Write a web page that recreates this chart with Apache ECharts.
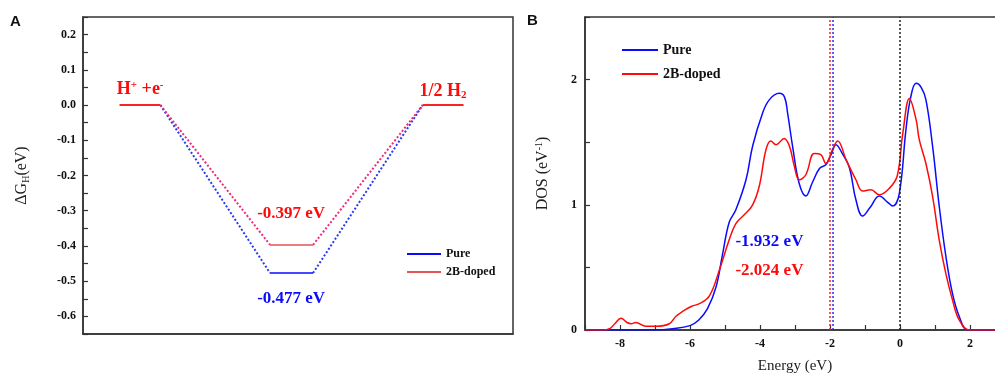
<!DOCTYPE html>
<html>
<head>
<meta charset="utf-8">
<script src="https://cdn.jsdelivr.net/npm/echarts@6/dist/echarts.min.js"></script>
<style>
  html, body { margin: 0; background: #fff; }
  #chart { width: 995px; height: 377px; }
</style>
</head>
<body>
<div id="chart"></div>
<script>
// ---- panel A: free energy diagram ----
// x positions of the three levels (reaction coordinate, arbitrary units)
const levelStart = [0.85, 1.8];
const levelMid = [4.35, 5.35];
const levelEnd = [7.9, 8.85];
const dGPure = -0.477;
const dGDoped = -0.397;

// ---- panel B: density of states ----
const pureE = [-9, -7, -6.5, -6.0, -5.75, -5.5, -5.25, -5.08, -4.88, -4.69, -4.4, -4.21, -3.93, -3.73, -3.45,
  -3.3, -3.21, -3.06, -2.88, -2.69, -2.5, -2.3, -2.12, -1.97, -1.83, -1.65, -1.45, -1.26, -1.07, -0.85,
  -0.59, -0.35, -0.21, -0.02, 0.17, 0.3, 0.46, 0.6, 0.74, 0.93, 1.12, 1.31, 1.5, 1.69, 1.93, 2.2, 3];
const pureDOS = [0, 0, 0.01, 0.035, 0.08, 0.17, 0.35, 0.59, 0.86, 0.96, 1.2, 1.47, 1.73, 1.84, 1.89,
  1.86, 1.73, 1.45, 1.17, 1.07, 1.18, 1.29, 1.32, 1.4, 1.48, 1.41, 1.3, 1.04, 0.91, 0.98,
  1.07, 1.02, 0.99, 1.09, 1.6, 1.85, 1.97, 1.94, 1.84, 1.47, 0.99, 0.59, 0.29, 0.11, 0.0, 0, 0];
const dopedE = [-9, -8.5, -8.3, -8.15, -7.97, -7.8, -7.68, -7.55, -7.26, -6.97, -6.59, -6.4, -6.2, -5.95,
  -5.73, -5.45, -5.16, -4.88, -4.69, -4.45, -4.21, -4.02, -3.83, -3.69, -3.54, -3.31, -3.16, -3.02,
  -2.88, -2.69, -2.45, -2.26, -2.12, -1.93, -1.78, -1.54, -1.26, -1.07, -0.83, -0.59, -0.31, -0.08,
  0.08, 0.27, 0.46, 0.55, 0.74, 0.93, 1.12, 1.31, 1.5, 1.69, 1.98, 2.2, 3];
const dopedDOS = [0, 0, 0.01, 0.05, 0.094, 0.06, 0.05, 0.06, 0.03, 0.03, 0.05, 0.11, 0.15, 0.19,
  0.21, 0.27, 0.48, 0.72, 0.85, 0.92, 1.0, 1.15, 1.44, 1.51, 1.48, 1.53, 1.47, 1.31,
  1.2, 1.24, 1.41, 1.4, 1.33, 1.44, 1.51, 1.36, 1.2, 1.11, 1.12, 1.08, 1.13, 1.23,
  1.57, 1.85, 1.68, 1.52, 1.33, 1.07, 0.72, 0.45, 0.24, 0.08, 0.0, 0, 0];
const fermiPure = -1.932;
const fermiDoped = -2.024;

const serif = '"Liberation Serif", "Times New Roman", serif';
const BLUE = '#0a0aff';
const RED = '#ff0a0a';

const chart = echarts.init(document.getElementById('chart'), null, { renderer: 'canvas' });

function seg(name, pts, color, type, width) {
  return {
    type: 'line', name: name, xAxisIndex: 0, yAxisIndex: 0,
    data: pts, symbol: 'none', silent: true,
    lineStyle: { color: color, type: type, width: width },
    itemStyle: { color: color }
  };
}

function note(grid, pos, text, color, size, rich) {
  return {
    type: 'scatter', xAxisIndex: grid, yAxisIndex: grid, silent: true,
    symbolSize: 0, data: [pos], itemStyle: { opacity: 1 },
    label: {
      show: true, position: 'inside', formatter: text,
      color: color, fontFamily: serif, fontWeight: 'bold', fontSize: size,
      rich: rich || {}
    }
  };
}

const zip = (xs, ys) => xs.map((x, i) => [x, ys[i]]);

const boldLabel = { fontFamily: serif, fontWeight: 'bold', fontSize: 12, color: '#111' };
const axLine = { show: true, onZero: false, lineStyle: { color: '#333', width: 1.5 } };

const option = {
  animation: false,
  backgroundColor: '#fff',
  graphic: [
    { type: 'text', left: 10, top: 14, style: { text: 'A', font: 'bold 15px "Liberation Sans", Arial, sans-serif', fill: '#111' } },
    { type: 'text', left: 527, top: 13, style: { text: 'B', font: 'bold 15px "Liberation Sans", Arial, sans-serif', fill: '#111' } }
  ],
  grid: [
    { left: 83, top: 17, width: 430, height: 317, show: true, borderColor: '#333', borderWidth: 1.5, outerBoundsMode: 'none' },
    { left: 585, top: 17, width: 420, height: 313, show: true, borderColor: '#333', borderWidth: 1.5, outerBoundsMode: 'none' }
  ],
  legend: [
    {
      orient: 'vertical', left: 402, top: 243, itemWidth: 34, itemHeight: 2, itemGap: 6,
      icon: 'rect',
      textStyle: { fontFamily: serif, fontWeight: 'bold', fontSize: 12, color: '#111' },
      data: [
        { name: 'Pure', itemStyle: { color: BLUE } },
        { name: '2B-doped', itemStyle: { color: '#e25555' } }
      ]
    },
    {
      orient: 'vertical', left: 617, top: 38, itemWidth: 36, itemHeight: 2, itemGap: 10,
      icon: 'rect',
      textStyle: { fontFamily: serif, fontWeight: 'bold', fontSize: 14, color: '#111' },
      data: [
        { name: 'Pure', itemStyle: { color: BLUE } },
        { name: '2B-doped', itemStyle: { color: RED } }
      ]
    }
  ],
  xAxis: [
    {
      gridIndex: 0, type: 'value', min: 0, max: 10,
      axisLine: axLine, axisTick: { show: false }, axisLabel: { show: false }, splitLine: { show: false }
    },
    {
      gridIndex: 1, type: 'value', min: -9, max: 3, interval: 1,
      axisLine: axLine,
      axisTick: { inside: true, length: 5, lineStyle: { color: '#333', width: 1.2 } },
      splitLine: { show: false },
      axisLabel: Object.assign({ margin: 8, formatter: v => (Math.round(v) % 2 === 0 ? String(Math.round(v)) : '') }, boldLabel),
      name: 'Energy (eV)', nameLocation: 'middle', nameGap: 29,
      nameTextStyle: { fontFamily: serif, fontSize: 15, color: '#222' }
    }
  ],
  yAxis: [
    {
      gridIndex: 0, type: 'value', min: -0.65, max: 0.25, interval: 0.05,
      axisLine: axLine,
      axisTick: { inside: true, length: 5, lineStyle: { color: '#333', width: 1.2 } },
      splitLine: { show: false },
      axisLabel: Object.assign({
        margin: 7,
        formatter: v => { const k = Math.round(v * 20); return k % 2 === 0 ? (k / 20).toFixed(1) : ''; }
      }, boldLabel),
      name: '{a|ΔG}{s|H}{a|(eV)}', nameLocation: 'middle', nameGap: 52,
      nameTextStyle: {
        rich: {
          a: { fontFamily: serif, fontSize: 16, color: '#222', lineHeight: 18 },
          s: { fontFamily: serif, fontSize: 10, color: '#222', lineHeight: 10, verticalAlign: 'bottom' }
        }
      }
    },
    {
      gridIndex: 1, type: 'value', min: 0, max: 2.5, interval: 0.5,
      axisLine: axLine,
      axisTick: { inside: true, length: 5, lineStyle: { color: '#333', width: 1.2 } },
      splitLine: { show: false },
      axisLabel: Object.assign({ margin: 8, formatter: v => (v % 1 === 0 ? String(v) : '') }, boldLabel),
      name: '{a|DOS (eV}{p|-1}{a|)}', nameLocation: 'middle', nameGap: 33,
      nameTextStyle: {
        rich: {
          a: { fontFamily: serif, fontSize: 16, color: '#222', lineHeight: 18 },
          p: { fontFamily: serif, fontSize: 10, color: '#222', lineHeight: 10, verticalAlign: 'top' }
        }
      }
    }
  ],
  series: [
    // panel A
    seg('pureDots', [[levelStart[1], 0], [levelMid[0], dGPure]], '#2a3af0', [2, 2], 2),
    seg('pureDots', [[levelMid[1], dGPure], [levelEnd[0], 0]], '#2a3af0', [2, 2], 2),
    seg('dopedDots', [[levelStart[1], 0], [levelMid[0], dGDoped]], '#ee2a7a', [2, 2], 2),
    seg('dopedDots', [[levelMid[1], dGDoped], [levelEnd[0], 0]], '#ee2a7a', [2, 2], 2),
    seg('start', [[levelStart[0], 0], [levelStart[1], 0]], '#f52525', 'solid', 2),
    seg('end', [[levelEnd[0], 0], [levelEnd[1], 0]], '#f52525', 'solid', 2),
    seg('Pure', [[levelMid[0], dGPure], [levelMid[1], dGPure]], BLUE, 'solid', 1.5),
    seg('2B-doped', [[levelMid[0], dGDoped], [levelMid[1], dGDoped]], '#e25555', 'solid', 1.5),
    note(0, [1.33, 0.045], '{b|H}{p|+}{b| +e}{p|-}', RED, 18, {
      b: { fontFamily: serif, fontWeight: 'bold', fontSize: 18, color: RED, lineHeight: 20 },
      p: { fontFamily: serif, fontWeight: 'bold', fontSize: 11, color: RED, lineHeight: 11, verticalAlign: 'top' }
    }),
    note(0, [8.37, 0.04], '{b|1/2 H}{s|2}', RED, 18, {
      b: { fontFamily: serif, fontWeight: 'bold', fontSize: 18, color: RED, lineHeight: 20 },
      s: { fontFamily: serif, fontWeight: 'bold', fontSize: 11, color: RED, lineHeight: 11, verticalAlign: 'bottom' }
    }),
    note(0, [4.84, -0.308], dGDoped.toFixed(3) + ' eV', RED, 17),
    note(0, [4.84, -0.55], dGPure.toFixed(3) + ' eV', BLUE, 17),
    // panel B
    {
      type: 'line', name: 'Pure', xAxisIndex: 1, yAxisIndex: 1, data: zip(pureE, pureDOS),
      symbol: 'none', smooth: 0.4, silent: true,
      lineStyle: { color: BLUE, width: 1.5 }, itemStyle: { color: BLUE },
      markLine: {
        symbol: ['none', 'none'], silent: true, label: { show: false },
        lineStyle: { type: [2, 2], width: 1.5 },
        data: [
          { xAxis: fermiPure, lineStyle: { color: '#2a2af5' } },
          { xAxis: 0, lineStyle: { color: '#222' } }
        ]
      }
    },
    {
      type: 'line', name: '2B-doped', xAxisIndex: 1, yAxisIndex: 1, data: zip(dopedE, dopedDOS),
      symbol: 'none', smooth: 0.4, silent: true,
      lineStyle: { color: RED, width: 1.5 }, itemStyle: { color: RED },
      markLine: {
        symbol: ['none', 'none'], silent: true, label: { show: false },
        lineStyle: { type: [2, 2], width: 1.5 },
        data: [{ xAxis: fermiDoped, lineStyle: { color: '#f02020' } }]
      }
    },
    note(1, [-3.73, 0.706], fermiPure.toFixed(3) + ' eV', BLUE, 17),
    note(1, [-3.73, 0.474], fermiDoped.toFixed(3) + ' eV', RED, 17)
  ]
};

chart.setOption(option);
</script>
</body>
</html>
